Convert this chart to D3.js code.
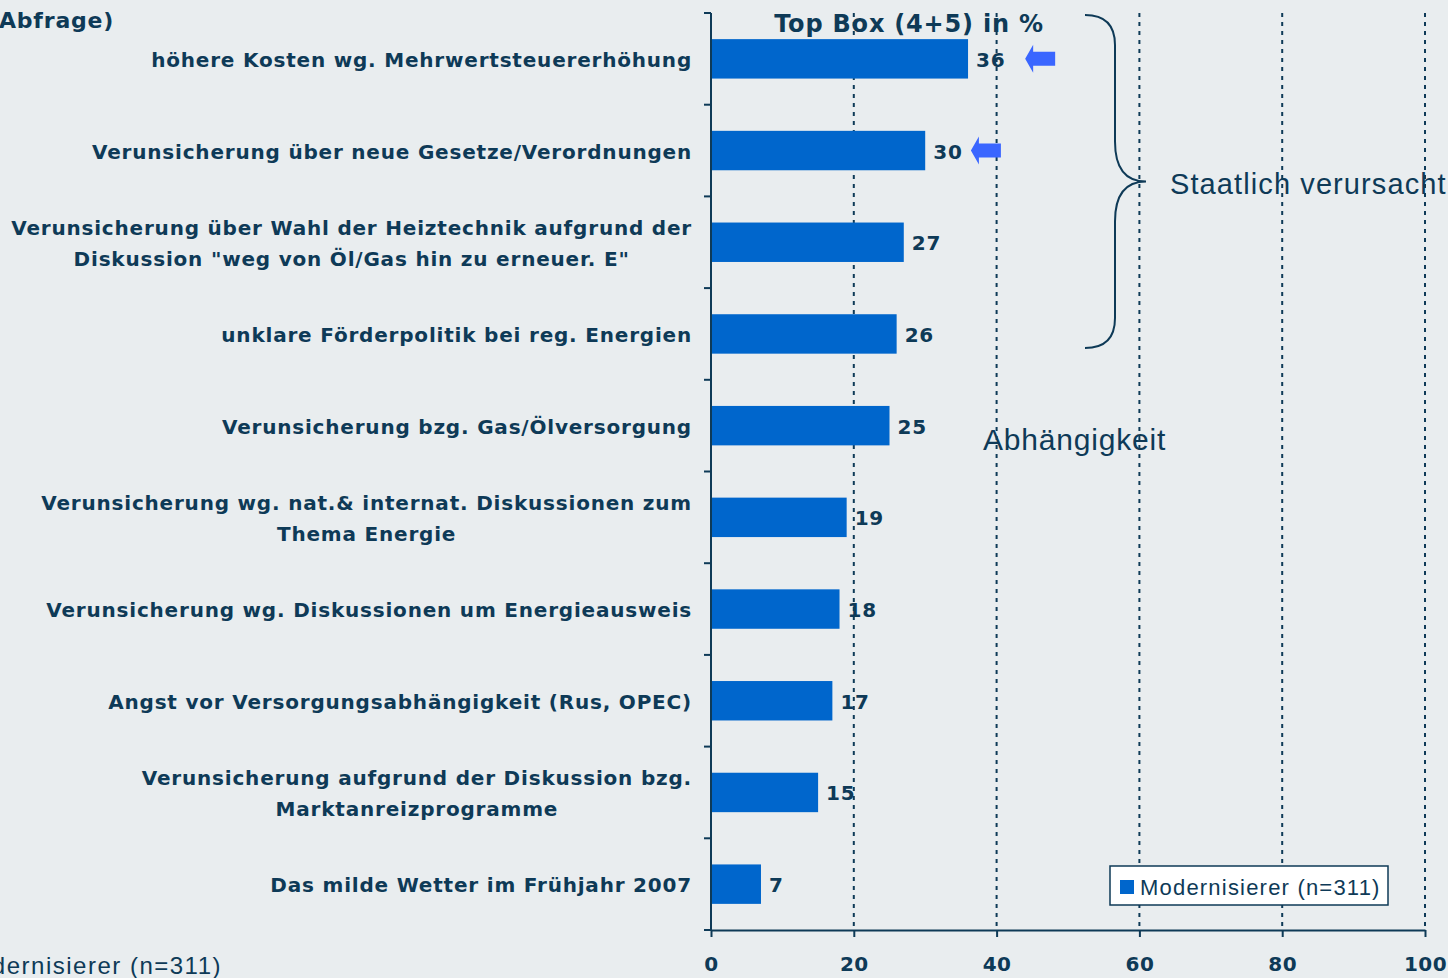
<!DOCTYPE html>
<html>
<head>
<meta charset="utf-8">
<script src="https://cdn.jsdelivr.net/npm/d3@7"></script>
<style>
  body { margin: 0; background: #e9edef; }
  svg { display: block; }
  text { fill: #0e3a57; }
  .lab { font-family: "DejaVu Sans", Verdana, sans-serif; font-weight: bold; font-size: 20px; letter-spacing: 0.8px; }
  .reg { font-family: "Liberation Sans", Arial, sans-serif; }
</style>
</head>
<body>
<div id="chart"></div>
<script>
// categories (top to bottom) and Top Box values in %
var categories = [
  "höhere Kosten wg. Mehrwertsteuererhöhung",
  "Verunsicherung über neue Gesetze/Verordnungen",
  "Verunsicherung über Wahl der Heiztechnik aufgrund der\nDiskussion \"weg von Öl/Gas hin zu erneuer. E\"",
  "unklare Förderpolitik bei reg. Energien",
  "Verunsicherung bzg. Gas/Ölversorgung",
  "Verunsicherung wg. nat.& internat. Diskussionen zum\nThema Energie",
  "Verunsicherung wg. Diskussionen um Energieausweis",
  "Angst vor Versorgungsabhängigkeit (Rus, OPEC)",
  "Verunsicherung aufgrund der Diskussion bzg.\nMarktanreizprogramme",
  "Das milde Wetter im Frühjahr 2007"
];
var values = [36, 30, 27, 26, 25, 19, 18, 17, 15, 7];
var xTicks = [0, 20, 40, 60, 80, 100];
// arrows pointing at the first two bars (tip position in axis units)
var arrowRows = [0, 1];
var arrowTips = [44, 36.4];
var seriesName = "Modernisierer (n=311)";

var W = 1448, H = 978;
var svg = d3.select("#chart").append("svg").attr("width", W).attr("height", H);

var x = d3.scaleLinear().domain([0, 100]).range([711, 1425]);
var y = d3.scaleBand().domain(categories).range([13, 930])
    .paddingInner(0.57).paddingOuter(0.285);
var navy = "#0e3a57";

// partial title at top left
svg.append("text").attr("class", "lab").attr("x", -1).attr("y", 28)
    .style("font-size", "22px").text("Abfrage)");

// gridlines
svg.selectAll(".grid").data(xTicks.slice(1)).enter().append("line")
    .attr("x1", d => x(d)).attr("x2", d => x(d))
    .attr("y1", 13).attr("y2", 930)
    .attr("stroke", navy).attr("stroke-width", 2)
    .attr("stroke-dasharray", "4,5");

// bars
svg.selectAll(".bar").data(values).enter().append("rect")
    .attr("x", x(0))
    .attr("y", (d, i) => y(categories[i]))
    .attr("width", d => x(d) - x(0))
    .attr("height", y.bandwidth())
    .attr("fill", "#0066cc");

// value labels
svg.selectAll(".val").data(values).enter().append("text")
    .attr("class", "lab")
    .attr("x", d => x(d) + 8)
    .attr("y", (d, i) => y(categories[i]) + y.bandwidth() / 2 + 8)
    .text(d => d);

// category labels, multi-line centred within a right-aligned block
categories.forEach(function(c, i) {
  var lines = c.split("\n");
  var g = svg.append("g");
  var cy = y(c) + y.bandwidth() / 2;
  var texts = lines.map(function(l, j) {
    return g.append("text").attr("class", "lab")
      .attr("y", cy + 8 + (j - (lines.length - 1) / 2) * 31)
      .text(l);
  });
  var maxW = d3.max(texts, t => t.node().getComputedTextLength());
  texts.forEach(t => t.attr("x", 692 - maxW / 2).attr("text-anchor", "middle"));
});

// left axis line and band ticks
var step = y.step();
var bounds = d3.range(categories.length + 1).map(i => 13 + i * step);
svg.append("line").attr("x1", x(0)).attr("x2", x(0)).attr("y1", 13).attr("y2", 930)
    .attr("stroke", navy).attr("stroke-width", 2);
svg.selectAll(".ytick").data(bounds).enter().append("line")
    .attr("x1", x(0) - 7).attr("x2", x(0)).attr("y1", d => d).attr("y2", d => d)
    .attr("stroke", navy).attr("stroke-width", 2);

// bottom axis
var xAxis = svg.append("g").attr("transform", "translate(0,930)")
    .call(d3.axisBottom(x).tickValues(xTicks).tickSize(7).tickPadding(20).tickSizeOuter(0));
xAxis.select(".domain").attr("stroke", navy).attr("stroke-width", 2);
xAxis.selectAll(".tick line").attr("stroke", navy).attr("stroke-width", 2);
xAxis.selectAll(".tick text").attr("class", "lab").style("fill", navy).style("letter-spacing", "0.5px");

// header
svg.append("text").attr("class", "lab").attr("x", 909).attr("y", 32)
    .attr("text-anchor", "middle").style("font-size", "24px")
    .text("Top Box (4+5) in %");

// arrows
arrowRows.forEach(function(r, k) {
  var tip = x(arrowTips[k]);
  var cy = y(categories[r]) + y.bandwidth() / 2;
  var p = d3.path();
  p.moveTo(tip, cy);
  p.lineTo(tip + 8, cy - 14);
  p.lineTo(tip + 8, cy - 7);
  p.lineTo(tip + 30, cy - 7);
  p.lineTo(tip + 30, cy + 7);
  p.lineTo(tip + 8, cy + 7);
  p.lineTo(tip + 8, cy + 14);
  p.closePath();
  svg.append("path").attr("d", p.toString()).attr("fill", "#3a66ff");
});

// brace over the first four rows
var bt = 15, bb = 348, bm = (bt + bb) / 2;
var brace = d3.path();
brace.moveTo(1085, bt);
brace.bezierCurveTo(1105, bt, 1115, bt + 10, 1115, bt + 30);
brace.lineTo(1115, bm - 40);
brace.bezierCurveTo(1115, bm - 8, 1130, bm, 1146, bm);
brace.bezierCurveTo(1130, bm, 1115, bm + 8, 1115, bm + 40);
brace.lineTo(1115, bb - 30);
brace.bezierCurveTo(1115, bb - 10, 1105, bb, 1085, bb);
svg.append("path").attr("d", brace.toString()).attr("fill", "none")
    .attr("stroke", navy).attr("stroke-width", 2);

svg.append("text").attr("class", "reg").attr("x", 1170).attr("y", 194)
    .style("font-size", "29px").style("letter-spacing", "1.1px").text("Staatlich verursacht");
svg.append("text").attr("class", "reg").attr("x", 983).attr("y", 450)
    .style("font-size", "30px").style("letter-spacing", "0.8px").text("Abhängigkeit");

// legend
var lg = svg.append("g").attr("transform", "translate(1110,866)");
lg.append("rect").attr("width", 278).attr("height", 39)
    .attr("fill", "#ffffff").attr("stroke", navy).attr("stroke-width", 1.5);
lg.append("rect").attr("x", 10).attr("y", 14).attr("width", 14).attr("height", 14).attr("fill", "#0066cc");
lg.append("text").attr("class", "reg").attr("x", 30).attr("y", 29)
    .style("font-size", "22px").style("letter-spacing", "1.2px").text(seriesName);

// cut-off series note at bottom left
svg.append("text").attr("class", "reg").attr("x", 222).attr("y", 974)
    .attr("text-anchor", "end").style("font-size", "24px").style("letter-spacing", "1.5px")
    .text(seriesName);
</script>
</body>
</html>
